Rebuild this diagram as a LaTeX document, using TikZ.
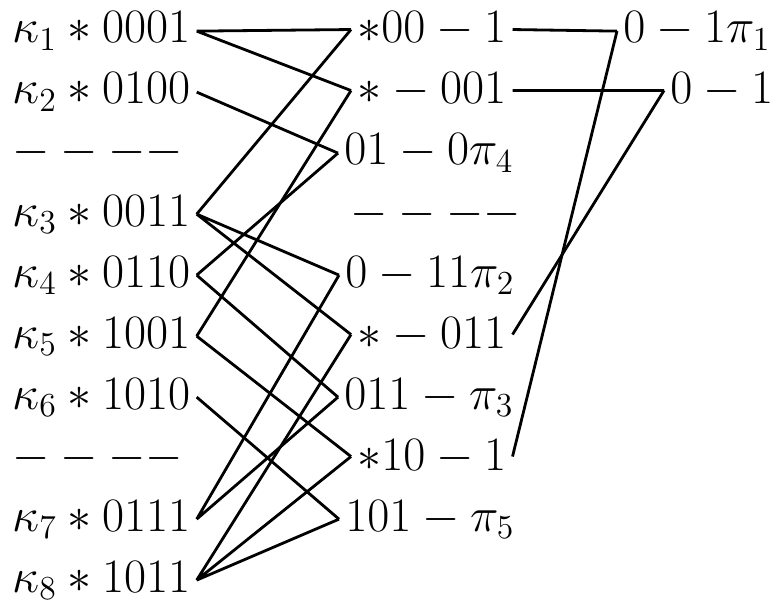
\documentclass[tikz,border=0pt]{standalone}
\usepackage{fix-cm}
\usepackage{tikz}
\usetikzlibrary{positioning}

\begin{document}
\begin{tikzpicture}[x=0.5pt, y=-0.5pt, font=\fontsize{24}{28}\selectfont,
      term/.style={anchor=base west, inner sep=3pt},
      link/.style={line width=1.4pt}]
   \useasboundingbox (0,0) rectangle (780,604);
   % minterms
   \node[term] (k1) at (6,43) {$\kappa_1 * 0001$};
   \node[term] (k2) at (6,104) {$\kappa_2 * 0100$};
   \node[term] (d1) at (6,165) {$----$};
   \node[term] (k3) at (6,226) {$\kappa_3 * 0011$};
   \node[term] (k4) at (6,287) {$\kappa_4 * 0110$};
   \node[term] (k5) at (6,348) {$\kappa_5 * 1001$};
   \node[term] (k6) at (6,409) {$\kappa_6 * 1010$};
   \node[term] (d2) at (6,470) {$----$};
   \node[term] (k7) at (6,531) {$\kappa_7 * 0111$};
   \node[term] (k8) at (6,592) {$\kappa_8 * 1011$};
   % first merge
   \node[term] (m1) at (351,43) {$*00-1$};
   \node[term] (m2) at (351,104) {$*-001$};
   \node[term] (m3) at (338,165) {$01-0\pi_4$};
   \node[term] (d3) at (344,226) {$----$};
   \node[term] (m4) at (339,287) {$0-11\pi_2$};
   \node[term] (m5) at (351,348) {$*-011$};
   \node[term] (m6) at (338,409) {$011-\pi_3$};
   \node[term] (m7) at (351,470) {$*10-1$};
   \node[term] (m8) at (339,531) {$101-\pi_5$};
   % second merge
   \node[term] (p1) at (617,43) {$0-1\pi_1$};
   \node[term] (p2) at (664,104) {$0-1$};

   \draw[link] (k1.east) -- (m1.west) (k1.east) -- (m2.west);
   \draw[link] (k2.east) -- (m3.west);
   \draw[link] (k3.east) -- (m1.west) (k3.east) -- (m4.west) (k3.east) -- (m5.west);
   \draw[link] (k4.east) -- (m3.west) (k4.east) -- (m6.west);
   \draw[link] (k5.east) -- (m2.west) (k5.east) -- (m7.west);
   \draw[link] (k6.east) -- (m8.west);
   \draw[link] (k7.east) -- (m4.west) (k7.east) -- (m6.west);
   \draw[link] (k8.east) -- (m5.west) (k8.east) -- (m7.west) (k8.east) -- (m8.west);
   % to the prime implicants
   \draw[link] (m1.east) -- (p1.west) (m7.east) -- (p1.west);
   \draw[link] (m2.east) -- (p2.west) (m5.east) -- (p2.west);
\end{tikzpicture}
\end{document}
